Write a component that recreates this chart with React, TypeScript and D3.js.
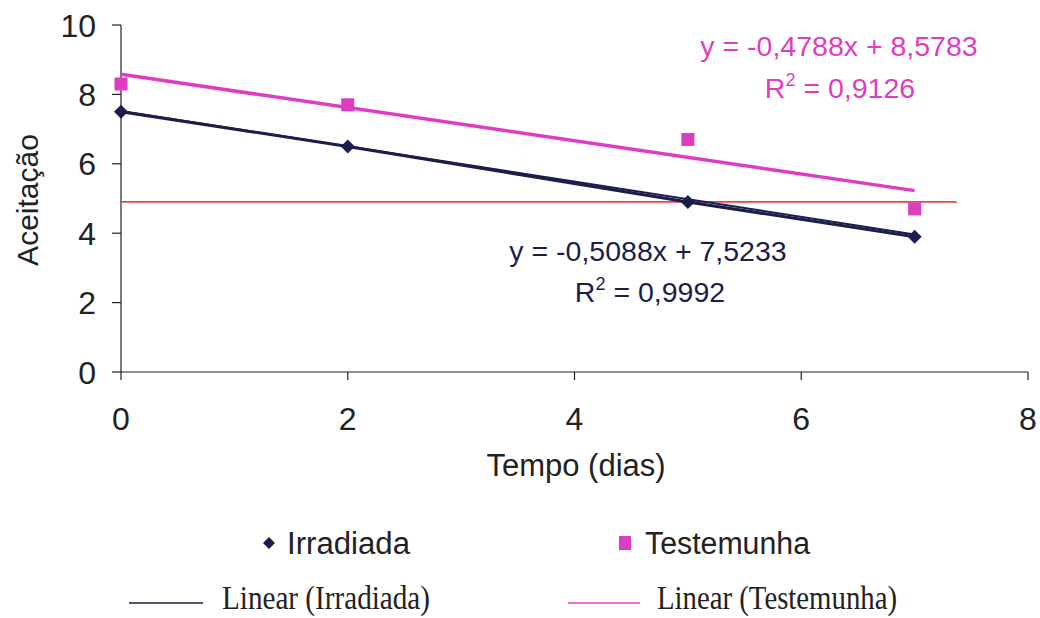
import React from "react";
import * as d3 from "d3";

const days = [0, 2, 5, 7];
const irradiada = [7.5, 6.5, 4.9, 3.9];
const testemunha = [8.3, 7.7, 6.7, 4.7];
const slopeIrr = -0.5088, interceptIrr = 7.5233;
const slopeTest = -0.4788, interceptTest = 8.5783;
const refLevel = 4.9;
const refStart = 0, refEnd = 7.37;
const xTicks = [0, 2, 4, 6, 8];
const yTicks = [0, 2, 4, 6, 8, 10];

const NAVY = "#1b1d4d";
const PINK = "#e03cc2";
const RED = "#e8453c";
const FONT = "Liberation Sans, Arial, sans-serif";

const diamondPath = (r: number) => `M0,${-r}L${r},0L0,${r}L${-r},0Z`;

export default function App() {
  const W = 1040, H = 618;
  const x = d3.scaleLinear().domain([0, 8]).range([121, 1028]);
  const y = d3.scaleLinear().domain([0, 10]).range([372, 25]);
  const line = d3.line<[number, number]>().x(d => x(d[0])).y(d => y(d[1]));
  const irrPts: [number, number][] = days.map((d, i) => [d, irradiada[i]]);
  const irrTrend: [number, number][] = [[0, interceptIrr], [7, interceptIrr + slopeIrr * 7]];
  const testTrend: [number, number][] = [[0, interceptTest], [7, interceptTest + slopeTest * 7]];
  return (
    <svg width={W} height={H} style={{ position: "absolute", left: 0, top: 0, background: "#fff" }}>
      {/* axes */}
      <line x1={x(0)} x2={x(8)} y1={y(0)} y2={y(0)} stroke="#222" strokeWidth={1.2} />
      <line x1={x(0)} x2={x(0)} y1={y(0)} y2={y(10)} stroke="#222" strokeWidth={1.2} />
      {yTicks.map(t => (
        <g key={"y" + t}>
          <line x1={x(0) - 9} x2={x(0)} y1={y(t)} y2={y(t)} stroke="#222" strokeWidth={1.2} />
          <text x={96} y={y(t) + 11.5} textAnchor="end" fontFamily={FONT} fontSize={32} fill="#222">{t}</text>
        </g>
      ))}
      {xTicks.map(t => (
        <g key={"x" + t}>
          <line x1={x(t)} x2={x(t)} y1={y(0)} y2={y(0) + 8} stroke="#222" strokeWidth={1.2} />
          <text x={x(t)} y={430} textAnchor="middle" fontFamily={FONT} fontSize={32} fill="#222">{t}</text>
        </g>
      ))}
      <text x={576} y={476} textAnchor="middle" fontFamily={FONT} fontSize={31} fill="#222">Tempo (dias)</text>
      <text transform="translate(38,200) rotate(-90)" textAnchor="middle" fontFamily={FONT} fontSize={30} fill="#222">Aceitação</text>

      {/* reference line */}
      <path d={line([[refStart, refLevel], [refEnd, refLevel]])!} stroke={RED} strokeWidth={1.8} fill="none" />
      {/* trend lines */}
      <path d={line(testTrend)!} stroke={PINK} strokeWidth={3.5} fill="none" />
      <path d={line(irrTrend)!} stroke={NAVY} strokeWidth={2} fill="none" />
      <path d={line(irrPts)!} stroke={NAVY} strokeWidth={3} fill="none" />
      {irrPts.map((p, i) => (
        <path key={"d" + i} d={diamondPath(7)} transform={`translate(${x(p[0])},${y(p[1])})`} fill={NAVY} />
      ))}
      {days.map((d, i) => (
        <rect key={"s" + i} x={x(d) - 6.5} y={y(testemunha[i]) - 6.5} width={13} height={13} fill={PINK} />
      ))}

      {/* equations */}
      <text x={839} y={56} textAnchor="middle" fontFamily={FONT} fontSize={28.5} fill={PINK}>y = -0,4788x + 8,5783</text>
      <text x={840} y={98} textAnchor="middle" fontFamily={FONT} fontSize={28.5} fill={PINK}>R<tspan dy={-12} fontSize={18}>2</tspan><tspan dy={12}> = 0,9126</tspan></text>
      <text x={648} y={261} textAnchor="middle" fontFamily={FONT} fontSize={28.5} fill={NAVY}>y = -0,5088x + 7,5233</text>
      <text x={650} y={302} textAnchor="middle" fontFamily={FONT} fontSize={28.5} fill={NAVY}>R<tspan dy={-12} fontSize={18}>2</tspan><tspan dy={12}> = 0,9992</tspan></text>

      {/* legend */}
      <path d={diamondPath(6)} transform="translate(269,543)" fill={NAVY} />
      <text x={287} y={554} fontFamily={FONT} fontSize={31} fill="#222" textLength={123} lengthAdjust="spacingAndGlyphs">Irradiada</text>
      <rect x={619} y={536} width={12} height={14} fill={PINK} />
      <text x={645} y={554} fontFamily={FONT} fontSize={31} fill="#222" textLength={165} lengthAdjust="spacingAndGlyphs">Testemunha</text>

      <line x1={129} x2={203} y1={603} y2={603} stroke={NAVY} strokeWidth={1.6} />
      <text x={222} y={609} fontFamily="Liberation Serif, serif" fontSize={33} fill="#222" textLength={208} lengthAdjust="spacingAndGlyphs">Linear (Irradiada)</text>
      <line x1={568} x2={640} y1={603} y2={603} stroke={PINK} strokeWidth={1.6} />
      <text x={657} y={609} fontFamily="Liberation Serif, serif" fontSize={33} fill="#222" textLength={240} lengthAdjust="spacingAndGlyphs">Linear (Testemunha)</text>
    </svg>
  );
}
